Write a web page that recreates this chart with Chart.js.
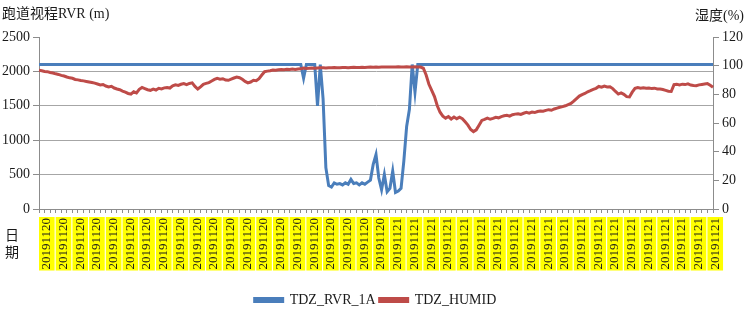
<!DOCTYPE html>
<html>
<head>
<meta charset="utf-8">
<script src="https://cdn.jsdelivr.net/npm/chart.js@4.4.1/dist/chart.umd.min.js"></script>
<style>
  html, body { margin: 0; padding: 0; background: #fff; }
  #wrap { width: 751px; height: 317px; }
</style>
</head>
<body>
<div id="wrap"><canvas id="rvrChart" width="751" height="317"></canvas></div>
<script>
// tick labels, one for every 6 samples
const tickDates = [
    '20191120', '20191120', '20191120', '20191120', '20191120', '20191120', '20191120',
    '20191120', '20191120', '20191120', '20191120', '20191120', '20191120', '20191120',
    '20191120', '20191120', '20191120', '20191120', '20191120', '20191120', '20191120',
    '20191121', '20191121', '20191121', '20191121', '20191121', '20191121', '20191121',
    '20191121', '20191121', '20191121', '20191121', '20191121', '20191121', '20191121',
    '20191121', '20191121', '20191121', '20191121', '20191121', '20191121'
];

// TDZ_RVR_1A (m), left axis
const rvr = [
    2100, 2100, 2100, 2100, 2100, 2100, 2100, 2100, 2100, 2100,
    2100, 2100, 2100, 2100, 2100, 2100, 2100, 2100, 2100, 2100,
    2100, 2100, 2100, 2100, 2100, 2100, 2100, 2100, 2100, 2100,
    2100, 2100, 2100, 2100, 2100, 2100, 2100, 2100, 2100, 2100,
    2100, 2100, 2100, 2100, 2100, 2100, 2100, 2100, 2100, 2100,
    2100, 2100, 2100, 2100, 2100, 2100, 2100, 2100, 2100, 2100,
    2100, 2100, 2100, 2100, 2100, 2100, 2100, 2100, 2100, 2100,
    2100, 2100, 2100, 2100, 2100, 2100, 2100, 2100, 2100, 2100,
    2100, 2100, 2100, 2100, 2100, 2100, 2100, 2100, 2100, 2100,
    2100, 2100, 2100, 2100, 2100, 1900, 2100, 2100, 2100, 2100,
    1500, 2100, 1600, 600, 340, 320, 380, 360, 370, 350,
    380, 360, 430, 370, 380, 350, 380, 360, 390, 420,
    650, 790, 450, 280, 500, 250, 300, 550, 240, 260,
    300, 700, 1200, 1450, 2100, 1700, 2100, 2100, 2100, 2100,
    2100, 2100, 2100, 2100, 2100, 2100, 2100, 2100, 2100, 2100,
    2100, 2100, 2100, 2100, 2100, 2100, 2100, 2100, 2100, 2100,
    2100, 2100, 2100, 2100, 2100, 2100, 2100, 2100, 2100, 2100,
    2100, 2100, 2100, 2100, 2100, 2100, 2100, 2100, 2100, 2100,
    2100, 2100, 2100, 2100, 2100, 2100, 2100, 2100, 2100, 2100,
    2100, 2100, 2100, 2100, 2100, 2100, 2100, 2100, 2100, 2100,
    2100, 2100, 2100, 2100, 2100, 2100, 2100, 2100, 2100, 2100,
    2100, 2100, 2100, 2100, 2100, 2100, 2100, 2100, 2100, 2100,
    2100, 2100, 2100, 2100, 2100, 2100, 2100, 2100, 2100, 2100,
    2100, 2100, 2100, 2100, 2100, 2100, 2100, 2100, 2100, 2100,
    2100, 2100, 2100
];

// TDZ_HUMID (%), right axis
const humid = [
    96.8, 96.5, 96.0, 95.8, 95.2, 94.9, 94.3, 93.9, 93.2, 92.8,
    92.1, 91.5, 91.2, 90.4, 90.1, 89.6, 89.4, 89.0, 88.6, 88.2,
    87.8, 87.2, 86.6, 86.9, 85.8, 85.2, 85.6, 84.4, 83.7, 83.2,
    82.3, 81.5, 80.6, 80.2, 81.8, 81.0, 83.5, 84.8, 84.0, 83.2,
    82.8, 83.6, 83.0, 84.2, 83.8, 84.5, 84.8, 84.4, 85.9, 86.6,
    86.2, 87.0, 87.5, 86.8, 87.6, 88.0, 85.5, 83.7, 85.2, 87.0,
    87.6, 88.2, 89.3, 90.4, 91.2, 90.6, 90.9, 90.0, 89.8, 90.6,
    91.4, 92.1, 91.6, 90.5, 89.0, 88.0, 88.6, 89.8, 89.5, 91.0,
    93.5, 95.8, 96.2, 96.4, 96.9, 96.8, 97.2, 97.4, 97.2, 97.5,
    97.3, 97.6, 97.4, 97.7, 97.8, 98.4, 98.1, 98.2, 98.3, 98.2,
    98.4, 98.5, 98.5, 98.4, 98.6, 98.5, 98.7, 98.6, 98.6, 98.7,
    98.7, 98.6, 98.8, 98.9, 98.7, 98.8, 98.9, 98.8, 98.9, 99.0,
    98.9, 99.1, 98.9, 99.0, 99.0, 99.1, 99.0, 99.1, 99.0, 99.2,
    99.1, 99.0, 99.2, 99.1, 99.0, 99.2, 99.1, 99.0, 98.2, 93.5,
    87.0, 82.8, 78.4, 72.0, 67.5, 64.8, 63.4, 64.5, 62.8, 64.2,
    63.0, 64.0, 63.0, 60.8, 58.5, 55.5, 54.0, 55.2, 58.5, 61.8,
    62.5, 63.4, 62.6, 63.2, 64.0, 63.6, 64.5, 65.0, 65.4, 64.8,
    65.8, 66.2, 66.5, 66.0, 66.8, 67.4, 66.9, 67.6, 67.3, 68.0,
    68.4, 68.2, 68.8, 69.3, 68.9, 69.8, 70.4, 71.0, 71.4, 72.0,
    72.8, 73.6, 75.2, 77.0, 78.8, 79.8, 80.6, 81.8, 82.6, 83.5,
    84.2, 85.5, 85.0, 85.8, 85.2, 85.3, 84.0, 82.0, 80.2, 81.0,
    80.0, 78.4, 78.2, 81.5, 84.2, 84.8, 84.3, 84.6, 84.2, 84.4,
    84.0, 84.3, 83.8, 83.7, 83.4, 82.8, 82.2, 82.0, 86.8, 87.0,
    86.6, 87.1, 86.8, 87.3, 86.5, 86.2, 86.0, 86.6, 86.9, 87.2,
    87.5, 86.4, 85.0
];

const labels = rvr.map((v, i) => tickDates[Math.floor(i / 6)]);

const AXIS_GRAY = '#8c8c8c';
const GRID_GRAY = '#a6a6a6';
const serif = '"Liberation Serif", "Times New Roman", serif';

// titles that sit outside the axes
const sideTitles = {
    id: 'sideTitles',
    afterDraw(chart) {
        const c = chart.ctx;
        c.save();
        c.fillStyle = '#1a1a1a';
        c.font = '14px "Liberation Serif", "Noto Sans CJK SC"';
        c.textBaseline = 'alphabetic';
        c.textAlign = 'left';
        c.fillText('跑道视程RVR (m)', 2, 18);
        c.textAlign = 'right';
        c.fillText('湿度(%)', 744, 20);
        c.textAlign = 'center';
        c.textBaseline = 'middle';
        c.fillText('日', 12, 236);
        c.fillText('期', 12, 253);
        c.restore();
    }
};

new Chart(document.getElementById('rvrChart').getContext('2d'), {
    type: 'line',
    data: {
        labels: labels,
        datasets: [
            { label: 'TDZ_RVR_1A', data: rvr, yAxisID: 'y', order: 1, borderColor: '#4a7ebb', backgroundColor: '#4a7ebb', borderWidth: 3, pointRadius: 0, tension: 0 },
            { label: 'TDZ_HUMID', data: humid, yAxisID: 'y1', order: 0, borderColor: '#be4b48', backgroundColor: '#be4b48', borderWidth: 3, pointRadius: 0, tension: 0 }
        ]
    },
    options: {
        responsive: false,
        animation: false,
        layout: { padding: { top: 37, right: 0, bottom: 0, left: 0 } },
        scales: {
            x: {
                afterFit: (s) => { s.height = 80; },
                border: { color: AXIS_GRAY },
                grid: {
                    drawOnChartArea: false, drawTicks: true, tickLength: 4,
                    tickColor: (ctx) => ctx.index % 2 === 0 ? AXIS_GRAY : 'rgba(0,0,0,0)'
                },
                ticks: {
                    autoSkip: false, minRotation: 90, maxRotation: 90, padding: 5,
                    color: '#1a1a1a', font: { family: serif, size: 13, lineHeight: 1.2 },
                    callback: (val, i) => i % 6 === 0 ? tickDates[i / 6] : '',
                    showLabelBackdrop: true,
                    backdropColor: (ctx) => ctx.index % 6 === 0 ? '#ffff00' : 'rgba(0,0,0,0)',
                    backdropPadding: { top: 0, bottom: 0, left: 1, right: 1 }
                }
            },
            y: {
                position: 'left', min: 0, max: 2500,
                afterFit: (s) => { s.width = 39; },
                border: { color: AXIS_GRAY },
                grid: {
                    color: (ctx) => ctx.tick && ctx.tick.value === 2500 ? 'rgba(0,0,0,0)' : GRID_GRAY,
                    tickColor: AXIS_GRAY, tickLength: 6
                },
                ticks: { stepSize: 500, padding: 3, color: '#1a1a1a', font: { family: serif, size: 14 }, callback: (v) => String(v) }
            },
            y1: {
                position: 'right', min: 0, max: 120,
                afterFit: (s) => { s.width = 38; },
                border: { color: AXIS_GRAY },
                grid: { drawOnChartArea: false, tickColor: AXIS_GRAY, tickLength: 6 },
                ticks: { stepSize: 20, padding: 3, color: '#1a1a1a', font: { family: serif, size: 14 }, callback: (v) => String(v) }
            }
        },
        plugins: {
            legend: {
                position: 'bottom',
                labels: {
                    boxWidth: 28, boxHeight: 3, padding: 4, color: '#1a1a1a',
                    font: { family: serif, size: 14 },
                    sort: (a, b) => a.datasetIndex - b.datasetIndex
                }
            },
            tooltip: { enabled: false }
        }
    },
    plugins: [sideTitles]
});
</script>
</body>
</html>
